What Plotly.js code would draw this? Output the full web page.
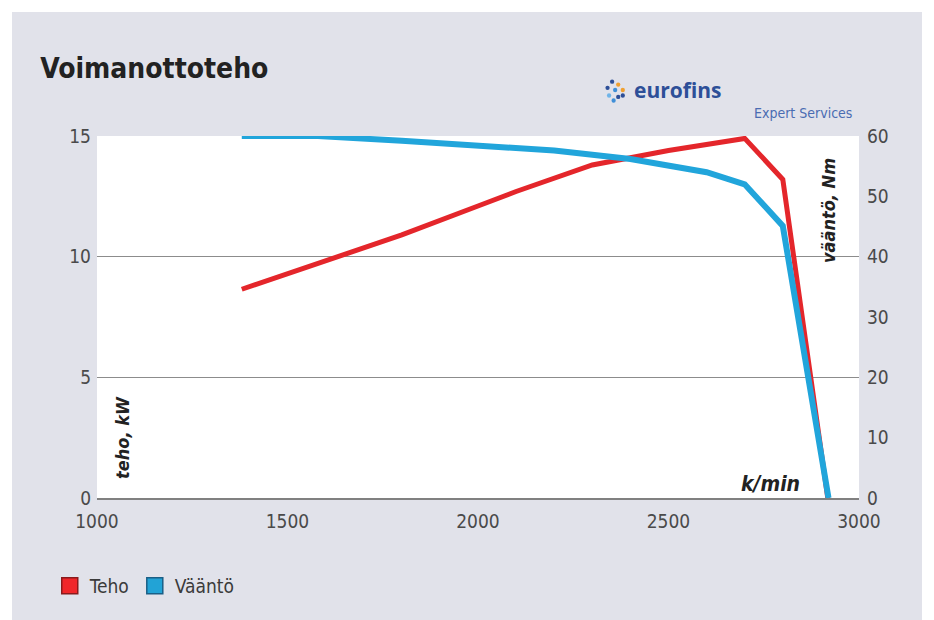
<!DOCTYPE html>
<html>
<head>
<meta charset="utf-8">
<script src="https://cdn.plot.ly/plotly-3.0.1.min.js"></script>
<style>
html,body{margin:0;padding:0;background:#ffffff;width:934px;height:620px;overflow:hidden;}
#chart{position:absolute;left:12px;top:12px;width:910px;height:608px;}
</style>
</head>
<body>
<div id="chart"></div>
<script>
// Data
var rpm_teho   = [1380, 1600, 1800, 2000, 2100, 2300, 2500, 2700, 2800, 2918];
var teho_kW    = [8.65, 9.8, 10.9, 12.1, 12.7, 13.8, 14.4, 14.9, 13.2, 0];
var rpm_vaanto = [1380, 1580, 1800, 2000, 2200, 2400, 2600, 2700, 2800, 2920];
var vaanto_Nm  = [60, 60, 59.2, 58.3, 57.6, 56.2, 54.0, 52.0, 45.1, 0];
var xTicks  = [1000, 1500, 2000, 2500, 3000];
var yTicksL = [0, 5, 10, 15];
var yTicksR = [0, 10, 20, 30, 40, 50, 60];
var seriesNames = ['Teho', 'Vääntö'];
var colRed = '#e4262b', colBlue = '#21a5db';

var narrow = "'DejaVu Sans Condensed', 'Liberation Sans', Arial, sans-serif";
var tickFont = {family: narrow, size: 19, color: '#4a4a4a'};

var traces = [
  {x: rpm_teho, y: teho_kW, type: 'scatter', mode: 'lines', name: seriesNames[0],
   line: {color: colRed, width: 5}, showlegend: false, yaxis: 'y'},
  {x: rpm_vaanto, y: vaanto_Nm, type: 'scatter', mode: 'lines', name: seriesNames[1],
   line: {color: colBlue, width: 6}, showlegend: false, yaxis: 'y2'},
  {x: [null], y: [null], type: 'scatter', mode: 'markers', name: seriesNames[0],
   marker: {symbol: 'square', size: 16, color: '#f0262a', line: {color: '#8a1a1c', width: 1.5}}},
  {x: [null], y: [null], type: 'scatter', mode: 'markers', name: seriesNames[1],
   marker: {symbol: 'square', size: 16, color: '#22a3d6', line: {color: '#1a5f86', width: 1.5}}}
];

var layout = {
  width: 910, height: 608,
  margin: {l: 85, r: 63, t: 124, b: 122, pad: 0},
  paper_bgcolor: '#e1e2ea',
  plot_bgcolor: '#ffffff',
  title: {text: 'Voimanottoteho', x: 0.031, xanchor: 'left', y: 0.908, yanchor: 'middle', yref: 'container',
          font: {family: narrow, size: 28, color: '#222222', weight: 'bold'}},
  xaxis: {range: [1000, 3000], tickvals: xTicks, ticks: '', showgrid: false, zeroline: false,
          showline: true, linecolor: '#808080', linewidth: 2, tickfont: tickFont, ticklabelstandoff: 5,
          fixedrange: true},
  yaxis: {range: [0, 15], tickvals: yTicksL, ticks: '', showgrid: true, gridcolor: '#8c8c8c', gridwidth: 1.5,
          zeroline: false, showline: false, tickfont: tickFont, ticklabelstandoff: 5, fixedrange: true},
  yaxis2: {range: [0, 60], tickvals: yTicksR, overlaying: 'y', side: 'right', ticks: '', showgrid: false,
           zeroline: false, showline: false, tickfont: tickFont, ticklabelstandoff: 7, fixedrange: true},
  showlegend: true,
  legend: {orientation: 'h', x: -0.062, xanchor: 'left', y: -0.243, yanchor: 'middle',
           bgcolor: 'rgba(0,0,0,0)', font: {family: narrow, size: 19, color: '#3a3a3a'},
           itemclick: false, itemdoubleclick: false},
  annotations: [
    {text: '<b><i>teho, kW</i></b>', xref: 'paper', yref: 'paper', x: 0.0328, y: 0.1685,
     xanchor: 'center', yanchor: 'middle',
     textangle: -90, showarrow: false, font: {family: narrow, size: 18, color: '#222'}},
    {text: '<b><i>vääntö, Nm</i></b>', xref: 'paper', yref: 'paper', x: 0.9606, y: 0.7956,
     xanchor: 'center', yanchor: 'middle',
     textangle: -90, showarrow: false, font: {family: narrow, size: 18, color: '#222'}},
    {text: '<b><i>k/min</i></b>', xref: 'paper', yref: 'paper', x: 0.8845, y: 0.0387,
     xanchor: 'center', yanchor: 'middle',
     showarrow: false, font: {family: narrow, size: 21, color: '#222'}},
    {text: '<b>eurofins</b>', xref: 'paper', yref: 'paper', x: 0.702, y: 1.127, xanchor: 'left', yanchor: 'middle',
     showarrow: false, font: {family: "'Open Sans', sans-serif", size: 21, color: '#2d4f98'}},
    {text: 'Expert Services', xref: 'paper', yref: 'paper', x: 0.8596, y: 1.0635, xanchor: 'left', yanchor: 'middle',
     showarrow: false, font: {family: narrow, size: 14, color: '#4a6cb2'}}
  ],
  shapes: []
};

// eurofins logo dots (decorative)
var dots = [
  [0.676, 1.150, '#2d4f98'], [0.684, 1.142, '#f0a030'], [0.670, 1.133, '#2d4f98'],
  [0.680, 1.127, '#3f8fd8'], [0.690, 1.127, '#f0a030'], [0.672, 1.112, '#6fb4e8'],
  [0.684, 1.108, '#2d4f98'], [0.678, 1.098, '#3f8fd8'], [0.690, 1.112, '#2d4f98']
];
dots.forEach(function(d){
  layout.shapes.push({type: 'circle', xref: 'paper', yref: 'paper',
    x0: d[0]-0.0028, x1: d[0]+0.0028, y0: d[1]-0.006, y1: d[1]+0.006,
    fillcolor: d[2], line: {width: 0}, layer: 'above'});
});

Plotly.newPlot('chart', traces, layout, {displayModeBar: false, staticPlot: true});
</script>
</body>
</html>
